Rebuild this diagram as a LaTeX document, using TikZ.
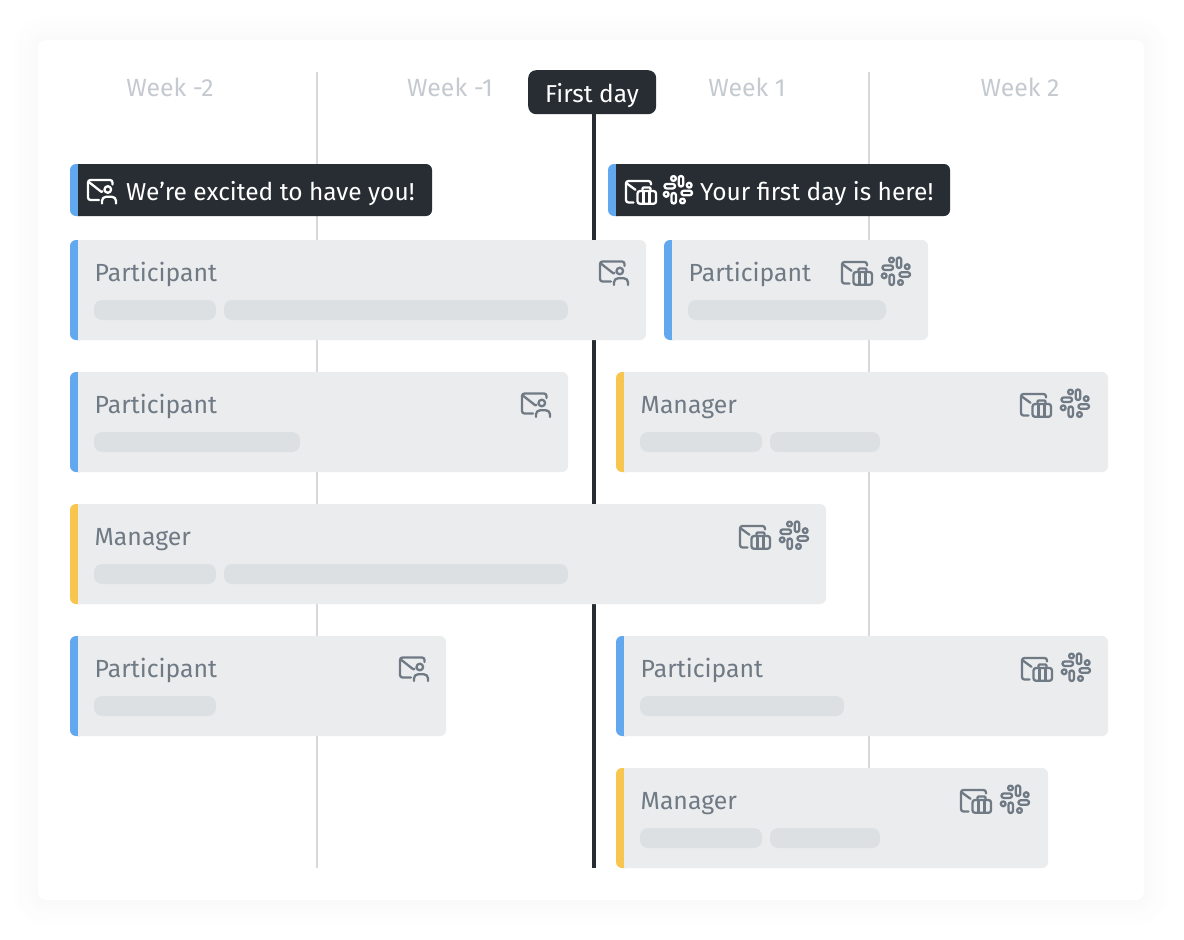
\documentclass[tikz,border=0pt]{standalone}
\usepackage{fontspec}
\setmainfont{Fira Sans}
\definecolor{cardgrey}{HTML}{EBECEE}
\definecolor{skelgrey}{HTML}{DDE0E3}
\definecolor{inkgrey}{HTML}{6F7A85}
\definecolor{darkbar}{HTML}{272D32}
\definecolor{accentblue}{HTML}{62A8EE}
\definecolor{accentyellow}{HTML}{F8C64F}
\definecolor{gridgrey}{HTML}{D6D8DB}
\definecolor{weekgrey}{HTML}{C5CAD0}
\tikzset{
  x=1pt,y=-1pt,
  weeklabel/.style={text=weekgrey,font=\fontsize{24.8}{24.8}\selectfont,anchor=base,inner sep=0},
  cardlabel/.style={text=inkgrey,font=\fontsize{24.8}{24.8}\selectfont,anchor=base west,inner sep=0},
  bannerlabel/.style={text=white,font=\fontsize{24.5}{24.5}\selectfont,anchor=base west,inner sep=0},
  gridline/.style={draw=gridgrey,line width=2pt},
  dayline/.style={draw=darkbar,line width=4pt},
  iconline/.style={line width=2.3pt,line cap=round,line join=round,rounded corners=2.5pt},
  pics/mailperson/.style={code={
    \begin{scope}[iconline,draw=#1]
    \draw (12,21.5) -- (1,21.5) -- (1,1.5) -- (25.5,1.5) -- (25.5,6);
    \draw[rounded corners=0] (1.8,3.5) -- (14.3,13.3) -- (15.5,12.8);
    \draw[rounded corners=0] (20.8,11) circle (3.3);
    \draw[rounded corners=4pt] (15,25) -- (15,18.3) -- (29,18.3) -- (29,25);
    \end{scope}}},
  pics/mailcase/.style={code={
    \begin{scope}[iconline,draw=#1]
    \draw (8.5,23.5) -- (1,23.5) -- (1,2) -- (26,2) -- (26,5.5);
    \draw[rounded corners=0] (1.8,4.5) -- (10.5,10.8);
    \draw (12.5,12) rectangle (31,24.8);
    \draw[rounded corners=1pt] (17.5,12) -- (17.5,8.5) -- (25.5,8.5) -- (25.5,12);
    \draw[rounded corners=0] (18.5,12) -- (18.5,24.8) (24.5,12) -- (24.5,24.8);
    \end{scope}}},
  pics/slacklogo/.style={code={
    \begin{scope}[iconline,draw=#1,rounded corners=2.1pt]
    \draw (-13.5,-6) rectangle (-3,-1.6);
    \draw (0.8,-14) rectangle (5.2,-3.5);
    \draw (3.5,0.8) rectangle (14,5.2);
    \draw (-6.5,3) rectangle (-2.1,13.5);
    \draw[rounded corners=0] (-4.5,-11.5) circle (2.4);
    \draw[rounded corners=0] (11.2,-4.8) circle (2.4);
    \draw[rounded corners=0] (4.5,11) circle (2.4);
    \draw[rounded corners=0] (-11.8,4.3) circle (2.4);
    \end{scope}}}
}
% #1 name, #2 x, #3 y, #4 width, #5 accent, #6 label
\newcommand\cardbox[6]{%
  \fill[#5,rounded corners=6pt] (#2,#3) rectangle ({#2+16},{#3+100});
  \begin{scope}
    \clip ({#2+8},#3) rectangle ({#2+#4},{#3+100});
    \fill[cardgrey,rounded corners=6pt] (#2,#3) rectangle ({#2+#4},{#3+100});
  \end{scope}
  \node[cardlabel] (#1) at ({#2+24.5},{#3+41}) {#6};
}
\newcommand\skel[3]{\fill[skelgrey,rounded corners=8pt] (#1,#3) rectangle (#2,{#3+20});}
\newcommand\bannerbox[5]{%
  \fill[accentblue,rounded corners=6pt] (#2,164) rectangle ({#2+16},216);
  \begin{scope}
    \clip ({#2+8},164) rectangle (#3,216);
    \fill[darkbar,rounded corners=6pt] (#2,164) rectangle (#3,216);
  \end{scope}
  \node[bannerlabel] (#1) at (#4,200) {#5};
}
\begin{document}
\begin{tikzpicture}
\useasboundingbox (0,0) rectangle (1184,940);
\fill[white] (0,0) rectangle (1184,940);
% soft shadow of the sheet: nested solid steps
\foreach \s/\p in {24/0.3,20/0.6,16/0.9,12/1.2,8/1.5,4/1.8}{
  \fill[black!\p,rounded corners={(8+\s)*1pt}] ({38-\s},{41-\s}) rectangle ({1144+\s},{901+\s});
}
\fill[white,rounded corners=8pt] (38,40) rectangle (1144,900);

% week labels
\node[weeklabel] (w1) at (170,96) {Week -2};
\node[weeklabel] (w2) at (450,96) {Week -1};
\node[weeklabel] (w3) at (747,96) {Week 1};
\node[weeklabel] (w4) at (1020,96) {Week 2};

% grid lines
\coordinate (g1t) at (317,72); \coordinate (g1b) at (317,868);
\coordinate (g2t) at (869,72); \coordinate (g2b) at (869,868);
\draw[gridline] (g1t) -- (g1b);
\draw[gridline] (g2t) -- (g2b);

% first day marker
\node[fill=darkbar,rounded corners=8pt,minimum width=128pt,minimum height=44pt,inner sep=0,anchor=north west] (firstday) at (528,70) {};
\coordinate (dayend) at (594,868);
\draw[dayline] (firstday.south -| dayend) -- (dayend);
\node[bannerlabel,anchor=base] (firstdaylabel) at (592,102) {First day};

% banners
\bannerbox{b1}{70}{432}{126}{We’re excited to have you!}
\pic at (87,178.5) {mailperson=white};
\bannerbox{b2}{608}{950}{700}{Your first day is here!}
\pic at (625,179) {mailcase=white};
\pic at (678,190) {slacklogo=white};

% cards
\cardbox{p1}{70}{240}{576}{accentblue}{Participant}
\skel{94}{216}{300}\skel{224}{568}{300}
\pic at (599,260) {mailperson=inkgrey};

\cardbox{p2}{664}{240}{264}{accentblue}{Participant}
\skel{688}{886}{300}
\pic at (841,260) {mailcase=inkgrey};
\pic at (896,271.5) {slacklogo=inkgrey};

\cardbox{p3}{70}{372}{498}{accentblue}{Participant}
\skel{94}{300}{432}
\pic at (521,392) {mailperson=inkgrey};

\cardbox{m1}{616}{372}{492}{accentyellow}{Manager}
\skel{640}{762}{432}\skel{770}{880}{432}
\pic at (1020,392) {mailcase=inkgrey};
\pic at (1075,403.5) {slacklogo=inkgrey};

\cardbox{m2}{70}{504}{756}{accentyellow}{Manager}
\skel{94}{216}{564}\skel{224}{568}{564}
\pic at (739,524) {mailcase=inkgrey};
\pic at (794,535.5) {slacklogo=inkgrey};

\cardbox{p4}{70}{636}{376}{accentblue}{Participant}
\skel{94}{216}{696}
\pic at (399,656) {mailperson=inkgrey};

\cardbox{p5}{616}{636}{492}{accentblue}{Participant}
\skel{640}{844}{696}
\pic at (1021,656) {mailcase=inkgrey};
\pic at (1076,667.5) {slacklogo=inkgrey};

\cardbox{m3}{616}{768}{432}{accentyellow}{Manager}
\skel{640}{762}{828}\skel{770}{880}{828}
\pic at (960,788) {mailcase=inkgrey};
\pic at (1015,799.5) {slacklogo=inkgrey};
\end{tikzpicture}
\end{document}
